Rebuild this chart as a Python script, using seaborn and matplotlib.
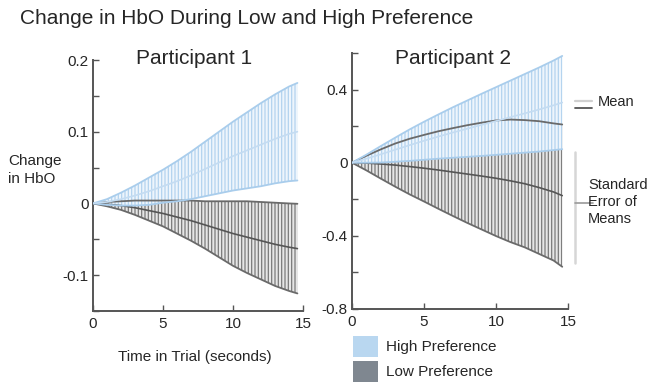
import matplotlib
matplotlib.use("Agg")
import matplotlib.pyplot as plt
from matplotlib.lines import Line2D
from matplotlib.patches import Patch
import numpy as np
import pandas as pd
import seaborn as sns

# seconds into the trial
time = [0, 1, 2, 3, 4, 5, 6, 7, 8, 9, 10, 11, 12, 13, 14, 14.6]

p1_high_mean = [0, 0.002, 0.006, 0.011, 0.017, 0.024, 0.031, 0.039, 0.048, 0.057,
                0.066, 0.074, 0.082, 0.090, 0.097, 0.100]
p1_high_sem = [0, 0.004, 0.009, 0.014, 0.019, 0.023, 0.028, 0.033, 0.038, 0.043,
               0.048, 0.053, 0.058, 0.062, 0.066, 0.068]
p1_low_mean = [0, -0.001, -0.003, -0.006, -0.010, -0.014, -0.019, -0.024, -0.030, -0.036,
               -0.042, -0.047, -0.052, -0.057, -0.061, -0.063]
p1_low_sem = [0, 0.003, 0.006, 0.010, 0.014, 0.018, 0.023, 0.028, 0.033, 0.039,
              0.045, 0.050, 0.054, 0.058, 0.061, 0.0625]

p2_high_mean = [0, 0.022, 0.046, 0.071, 0.096, 0.120, 0.143, 0.165, 0.186, 0.207,
                0.228, 0.249, 0.270, 0.291, 0.314, 0.329]
p2_high_sem = [0, 0.022, 0.045, 0.066, 0.086, 0.104, 0.121, 0.138, 0.154, 0.170,
               0.185, 0.200, 0.215, 0.230, 0.245, 0.255]
p2_low_mean = [0, -0.002, -0.007, -0.013, -0.021, -0.030, -0.040, -0.051, -0.062, -0.073,
               -0.085, -0.099, -0.115, -0.136, -0.160, -0.180]
p2_low_sem = [0, 0.040, 0.080, 0.118, 0.152, 0.182, 0.212, 0.240, 0.267, 0.292,
              0.316, 0.335, 0.348, 0.363, 0.375, 0.389]

groups = ["High Preference", "Low Preference"]
p1_yticks = [0.2, 0.1, 0, -0.1]
p1_yticklabels = ["0.2", "0.1", "0", "-0.1"]
p2_yticks = [0.4, 0, -0.4, -0.8]
p2_yticklabels = ["0.4", "0", "-0.4", "-0.8"]

sns.set_style("white")
plt.rcParams["font.family"] = ["Liberation Sans", "DejaVu Sans"]
plt.rcParams["axes.unicode_minus"] = False
plt.rcParams["hatch.linewidth"] = 0.9

blue = "#a9cdec"
blue_mean = "#c4dcf2"
gray = "#6a6a6a"
gray_mean = "#555555"
spine_c = "#555555"

fig = plt.figure(figsize=(6.5, 3.89), dpi=100)
ax1 = fig.add_axes([93 / 650, 1 - 311 / 389, 210 / 650, 251 / 389])
ax2 = fig.add_axes([352 / 650, 1 - 309 / 389, 216 / 650, 256 / 389])


def draw_band(ax, mean, sem, line_c, mean_c, hatch_c, face_c):
    m = np.array(mean)
    s = np.array(sem)
    ax.fill_between(time, m - s, m + s, facecolor=face_c, edgecolor=hatch_c,
                    hatch="|||||", linewidth=0, zorder=1)
    sns.lineplot(x=time, y=m + s, ax=ax, color=line_c, linewidth=1.3, zorder=3)
    sns.lineplot(x=time, y=m - s, ax=ax, color=line_c, linewidth=1.3, zorder=3)
    sns.lineplot(x=time, y=m, ax=ax, color=mean_c, linewidth=1.2, zorder=3)


panels = [
    (ax1, p1_high_mean, p1_high_sem, p1_low_mean, p1_low_sem, (-0.15, 0.2),
     p1_yticks, p1_yticklabels, np.arange(-0.15, 0.21, 0.05)),
    (ax2, p2_high_mean, p2_high_sem, p2_low_mean, p2_low_sem, (-0.8, 0.6),
     p2_yticks, p2_yticklabels, np.arange(-0.8, 0.61, 0.2)),
]

for ax, hm, hs, lm, ls, ylim, yt, ytl, minor in panels:
    draw_band(ax, lm, ls, gray, gray_mean, "#7a7a7a", "#e6e6e6")
    draw_band(ax, hm, hs, blue, blue_mean, "#b3d3ef", "#eef5fc")
    ax.set_xlim(0, 15)
    ax.set_ylim(*ylim)
    ax.set_xticks([0, 5, 10, 15])
    ax.set_xticklabels(["0", "5", "10", "15"])
    ax.set_yticks(yt)
    ax.set_yticklabels(ytl)
    ax.set_yticks(minor, minor=True)
    ax.tick_params(which="both", direction="in", length=4, width=1, color=spine_c,
                   labelsize=11, pad=3, left=True, bottom=True)
    ax.tick_params(axis="x", pad=4)
    for side in ["top", "right"]:
        ax.spines[side].set_visible(False)
    for side in ["left", "bottom"]:
        ax.spines[side].set_color(spine_c)
        ax.spines[side].set_linewidth(1.4)
    ax.set_xlabel("")
    ax.set_ylabel("")

fig.text(20 / 650, 1 - 19 / 389, "Change in HbO During Low and High Preference",
         fontsize=15, ha="left", va="center")
fig.text(194 / 650, 1 - 59 / 389, "Participant 1", fontsize=15, ha="center", va="center")
fig.text(453 / 650, 1 - 58 / 389, "Participant 2", fontsize=15, ha="center", va="center")
fig.text(8 / 650, 1 - 170 / 389, "Change\nin HbO", fontsize=11, ha="left", va="center",
         linespacing=1.45)
fig.text(195 / 650, 1 - 357 / 389, "Time in Trial (seconds)", fontsize=11,
         ha="center", va="center")

# Mean key
fig.add_artist(Line2D([575 / 650, 592 / 650], [1 - 101 / 389, 1 - 101 / 389],
                      color="#d0d0d0", linewidth=1.6))
fig.add_artist(Line2D([575 / 650, 592 / 650], [1 - 108 / 389, 1 - 108 / 389],
                      color="#555555", linewidth=1.3))
fig.text(598 / 650, 1 - 102 / 389, "Mean", fontsize=10.5, ha="left", va="center")

# Standard error bracket
fig.add_artist(Line2D([575 / 650, 575 / 650], [1 - 152 / 389, 1 - 263 / 389],
                      color="#d6d6d6", linewidth=1.8))
fig.add_artist(Line2D([575 / 650, 593 / 650], [1 - 203 / 389, 1 - 203 / 389],
                      color="#9a9a9a", linewidth=1.2))
fig.text(588 / 650, 1 - 202 / 389, "Standard\nError of\nMeans", fontsize=10.5,
         ha="left", va="center", linespacing=1.3)

handles = [Patch(facecolor="#b9d7f0", edgecolor="none"),
           Patch(facecolor="#7f8790", edgecolor="none")]
fig.legend(handles, groups, loc="upper left", bbox_to_anchor=(353 / 650, 1 - 336 / 389),
           frameon=False, fontsize=11, handlelength=1.63, handleheight=1.7,
           handletextpad=0.52, labelspacing=0.28, borderpad=0, borderaxespad=0)

fig.savefig("out.png", dpi=100)
